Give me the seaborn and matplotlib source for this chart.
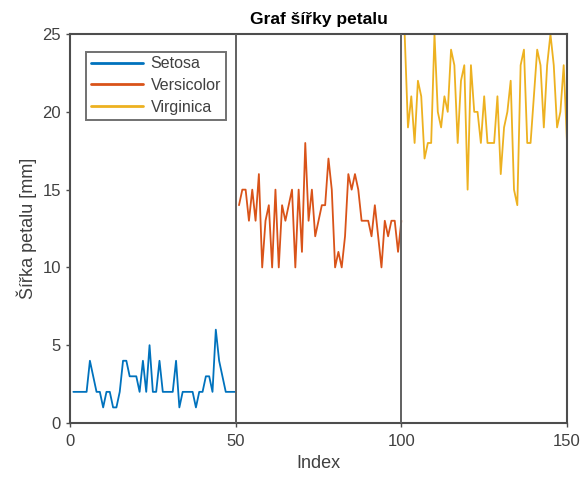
import numpy as np
import pandas as pd
import matplotlib
matplotlib.use("Agg")
import matplotlib.pyplot as plt
import seaborn as sns

# Petal width of the three iris species, in mm
setosa = [2, 2, 2, 2, 2, 4, 3, 2, 2, 1, 2, 2, 1, 1, 2, 4, 4, 3, 3, 3,
          2, 4, 2, 5, 2, 2, 4, 2, 2, 2, 2, 4, 1, 2, 2, 2, 2, 1, 2, 2,
          3, 3, 2, 6, 4, 3, 2, 2, 2, 2]
versicolor = [14, 15, 15, 13, 15, 13, 16, 10, 13, 14, 10, 15, 10, 14, 13, 14, 15, 10, 15, 11,
              18, 13, 15, 12, 13, 14, 14, 17, 15, 10, 11, 10, 12, 16, 15, 16, 15, 13, 13, 13,
              12, 14, 12, 10, 13, 12, 13, 13, 11, 13]
virginica = [25, 19, 21, 18, 22, 21, 17, 18, 18, 25, 20, 19, 21, 20, 24, 23, 18, 22, 23, 15,
             23, 20, 20, 18, 21, 18, 18, 18, 21, 16, 19, 20, 22, 15, 14, 23, 24, 18, 18, 21,
             24, 23, 19, 23, 25, 23, 19, 20, 23, 18]
species = ["Setosa", "Versicolor", "Virginica"]
boundaries = [50, 100]
x_ticks = [0, 50, 100, 150]
y_ticks = [0, 5, 10, 15, 20, 25]

values = setosa + versicolor + virginica
df = pd.DataFrame({
    "Index": np.arange(1, len(values) + 1),
    "width": values,
    "species": np.repeat(species, [len(setosa), len(versicolor), len(virginica)]),
})

sns.set_theme(style="white")
plt.rcParams["font.family"] = ["Liberation Sans", "DejaVu Sans"]

text_grey = "#404040"
axis_grey = "#4d4d4d"

fig = plt.figure(figsize=(5.86, 4.80), dpi=100)
ax = fig.add_axes([0.1195, 0.1188, 0.8481, 0.8102])

palette = {"Setosa": "#0072BD", "Versicolor": "#D95319", "Virginica": "#EDB120"}
sns.lineplot(data=df, x="Index", y="width", hue="species", palette=palette,
             linewidth=1.3, ax=ax, legend=True)

for b in boundaries:
    ax.axvline(b, color="#606060", linewidth=1.4, zorder=3)

ax.set_xlim(0, 150)
ax.set_ylim(0, 25)
ax.set_xticks(x_ticks)
ax.set_yticks(y_ticks)
ax.tick_params(direction="out", length=3, width=1.0, colors=axis_grey,
               labelcolor=text_grey, labelsize=12,
               top=False, right=False, left=True, bottom=True)
ax.tick_params(axis="x", pad=5)
for s in ax.spines.values():
    s.set_color(axis_grey)
    s.set_linewidth(1.5)

ax.set_xlabel("Index", fontsize=13, color=text_grey, labelpad=4)
ax.set_ylabel("Šířka petalu [mm]", fontsize=13, color=text_grey, labelpad=4)
ax.set_title("Graf šířky petalu", fontsize=12.5, fontweight="bold", color="black", pad=7)

leg = ax.legend(loc="upper left", bbox_to_anchor=(0.032, 0.955), fontsize=11.5,
                frameon=True, fancybox=False, handlelength=3.3, handletextpad=0.45,
                borderpad=0.3, labelspacing=0.42, borderaxespad=0)
leg.get_frame().set_edgecolor(axis_grey)
leg.get_frame().set_linewidth(1.4)
for line in leg.get_lines():
    line.set_linewidth(2.0)
for t in leg.get_texts():
    t.set_color(text_grey)

fig.savefig("out.png", dpi=100)
